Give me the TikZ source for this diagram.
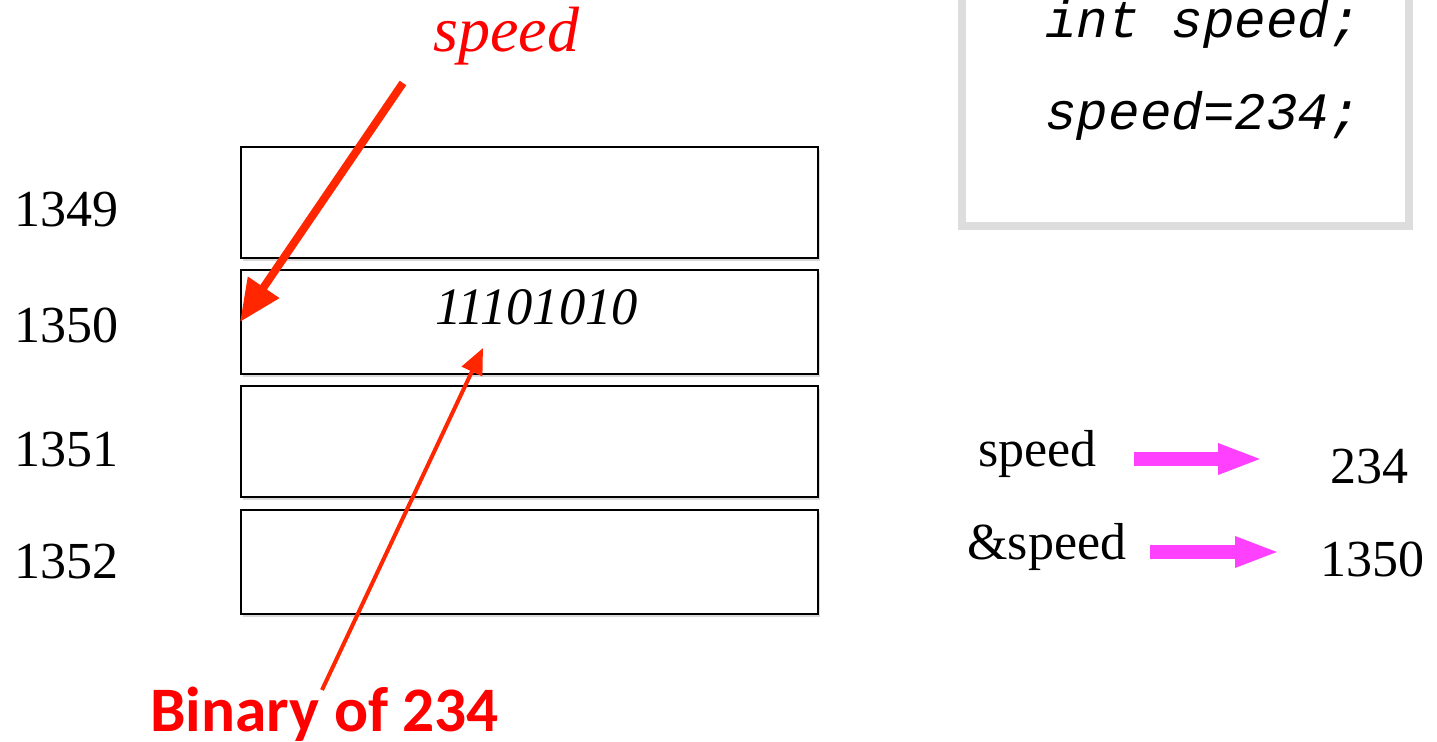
\documentclass[tikz,border=0pt]{standalone}
\usepackage{fontspec}
\setmainfont{Liberation Serif}
\setmonofont{Liberation Mono}
\newfontfamily\carlito{Carlito}
\usetikzlibrary{arrows.meta,shadows}
\definecolor{arrred}{HTML}{FF2600}
\definecolor{txtred}{HTML}{FF0000}
\definecolor{mag}{HTML}{FF40FF}
\definecolor{codegray}{HTML}{DDDDDD}
\begin{document}
\begin{tikzpicture}[x=0.5pt,y=-0.5pt,
  cell/.style={draw=black, line width=1pt, fill=white, minimum width=288.5pt,
    inner sep=0, drop shadow={opacity=0.3,shadow xshift=1.2pt,shadow yshift=-1.5pt}},
  lbl/.style={inner sep=0, anchor=base west, font=\fontsize{26}{30}\selectfont},
  code/.style={inner sep=0, anchor=base west, font=\fontsize{26.3}{30}\selectfont\ttfamily\itshape},
  redarrow/.style={draw=arrred, line cap=butt},
  magarrow/.style={draw=mag, line width=7pt, -{Triangle[length=22.5pt,width=14pt]}}
]
\useasboundingbox (0,0) rectangle (1437,742);

% code box
\draw[codegray, line width=4pt] (962,-20) rectangle (1409,226);
\node[code] (c1) at (1045,38) {int speed;};
\node[code] (c2) at (1045,130) {speed=234;};

% memory cells
\node[cell, minimum height=55.5pt] (m1) at (529.5,202.5) {};
\node[cell, minimum height=52pt] (m2) at (529.5,322) {};
\node[cell, minimum height=55.5pt] (m3) at (529.5,441.5) {};
\node[cell, minimum height=52pt] (m4) at (529.5,562) {};

% addresses
\node[lbl] (a1) at (14,227) {1349};
\node[lbl] (a2) at (14,343) {1350};
\node[lbl] (a3) at (14,467) {1351};
\node[lbl] (a4) at (14,579) {1352};

% value
\node[lbl, font=\fontsize{26.3}{30}\selectfont\itshape] (bin) at (435,325) {11101010};

% labels
\node[inner sep=0, anchor=base west, text=txtred, font=\fontsize{32}{36}\selectfont\itshape] (vname) at (433,52) {speed};
\node[inner sep=0, anchor=base west, text=txtred, font=\fontsize{31.7}{36}\selectfont\carlito\bfseries] (binlbl) at (150,732) {Binary of 234};

% red arrows
\coordinate (s1) at (403,83);
\draw[redarrow, line width=4pt, -{Triangle[length=21pt,width=18pt]}] (s1) -- (m2.west);
\coordinate (s2) at (322,690);
\coordinate (t2) at (483,348);
\draw[redarrow, line width=2pt, -{Triangle[length=13pt,width=11pt]}] (s2) -- (t2);

% right side
\node[lbl] (sp) at (978,467) {speed};
\node[lbl] (v234) at (1330,484) {234};
\node[lbl] (asp) at (967,560) {\&speed};
\node[lbl] (v1350) at (1320,577) {1350};
\coordinate (p1s) at (1134,459);
\coordinate (p1e) at (1263,459);
\coordinate (p2s) at (1150,552);
\coordinate (p2e) at (1280,552);
\draw[magarrow] (p1s) -- (p1e);
\draw[magarrow] (p2s) -- (p2e);
\end{tikzpicture}
\end{document}
